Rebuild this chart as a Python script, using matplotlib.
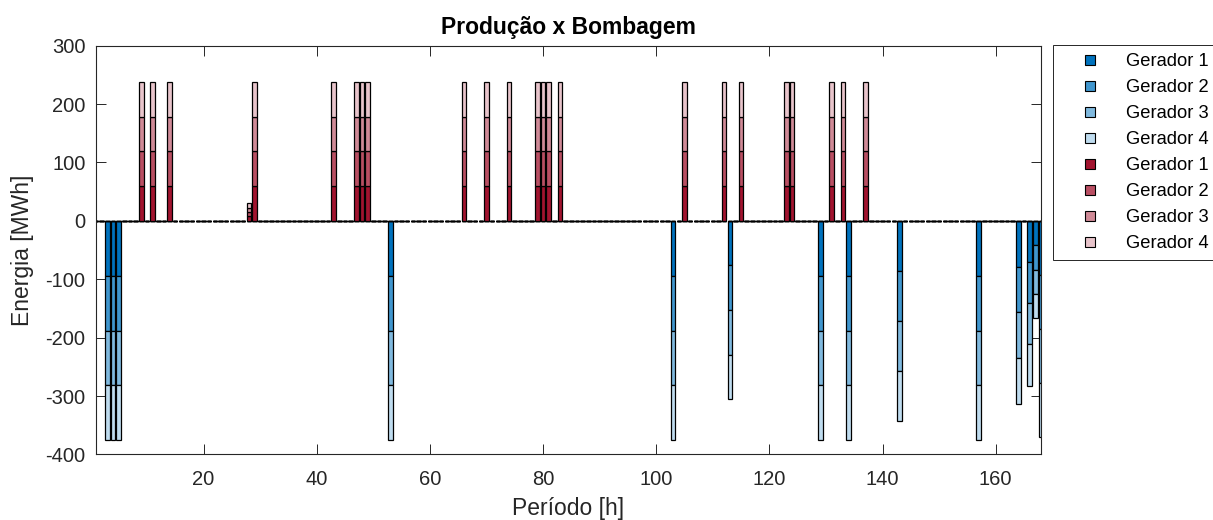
import numpy as np
import matplotlib
matplotlib.use("Agg")
import matplotlib.pyplot as plt
from matplotlib.lines import Line2D

plt.rcParams['font.family'] = ['Liberation Sans', 'DejaVu Sans']
plt.rcParams['axes.unicode_minus'] = False

# ---- data ----
hours = np.arange(1, 169)

# production (turbining) hours and energy per generator [MWh]
prod_hours = [9, 11, 14, 28, 29, 43, 47, 48, 49, 66, 70, 74, 79, 80, 81, 83,
              105, 112, 115, 123, 124, 131, 133, 137]
prod_per_gen = [59.5, 59.5, 59.5, 7.5, 59.5, 59.5, 59.5, 59.5, 59.5, 59.5, 59.5,
                59.5, 59.5, 59.5, 59.5, 59.5, 59.5, 59.5, 59.5, 59.5, 59.5, 59.5,
                59.5, 59.5]

# pumping hours and energy per generator [MWh]
pump_hours = [3, 4, 5, 53, 103, 113, 129, 134, 143, 157, 164, 166, 167, 168]
pump_per_gen = [-94, -94, -94, -94, -94, -76.4, -94, -94, -85.5, -94, -78.5,
                -70.6, -41.75, -92.5]

labels = ['Gerador 1', 'Gerador 2', 'Gerador 3', 'Gerador 4']
blue_colors = ['#0072BD', '#4096CE', '#80B9DE', '#BFDCEF']
red_colors = ['#A2142F', '#B94F63', '#D08A97', '#E8C4CB']

# ---- build full series (one per generator) ----
prod = np.zeros((4, len(hours)))
pump = np.zeros((4, len(hours)))
for h, v in zip(prod_hours, prod_per_gen):
    prod[:, h - 1] = v
for h, v in zip(pump_hours, pump_per_gen):
    pump[:, h - 1] = v

fig = plt.figure(figsize=(12.13, 5.20), dpi=100)
ax = fig.add_axes([96 / 1213, 1 - 454.4 / 520, 945 / 1213, (454.4 - 45.6) / 520])

ec = 'black'
lw = 0.9
w = 0.8
bottom = np.zeros(len(hours))
for i in range(4):
    ax.bar(hours, pump[i], bottom=bottom, width=w, color=blue_colors[i],
           edgecolor=ec, linewidth=lw, zorder=2)
    bottom = bottom + pump[i]
bottom = np.zeros(len(hours))
for i in range(4):
    ax.bar(hours, prod[i], bottom=bottom, width=w, color=red_colors[i],
           edgecolor=ec, linewidth=lw, zorder=2)
    bottom = bottom + prod[i]

ax.set_xlim(1, 168)
ax.set_ylim(-400, 300)
ax.set_xticks(np.arange(20, 161, 20))
ax.set_yticks(np.arange(-400, 301, 100))

axcol = '#262626'
for s in ax.spines.values():
    s.set_color(axcol)
    s.set_linewidth(0.8)
ax.tick_params(direction='in', length=7, width=0.7, colors=axcol,
               labelsize=14.5, top=True, right=True, pad=7.5)
ax.tick_params(axis='x', pad=11)

ax.set_xlabel('Período [h]', fontsize=16.5, color=axcol, labelpad=6)
ax.set_ylabel('Energia [MWh]', fontsize=16.5, color=axcol, labelpad=8)
ax.set_title('Produção x Bombagem', fontsize=16.5, fontweight='bold', pad=8)

handles = []
for c in blue_colors + red_colors:
    handles.append(Line2D([], [], linestyle='none', marker='s', markersize=6.5,
                          markerfacecolor=c, markeredgecolor='black',
                          markeredgewidth=0.8))
leg = ax.legend(handles, labels + labels, loc='upper left',
                bbox_to_anchor=((1053 - 96) / 945, 1.0015), fontsize=13.2,
                frameon=True, fancybox=False, framealpha=1, borderpad=0.45,
                labelspacing=0.49, handlelength=3.1, handletextpad=0.45,
                borderaxespad=0)
leg.get_frame().set_edgecolor(axcol)
leg.get_frame().set_linewidth(0.7)

fig.savefig('out.png', dpi=100)
